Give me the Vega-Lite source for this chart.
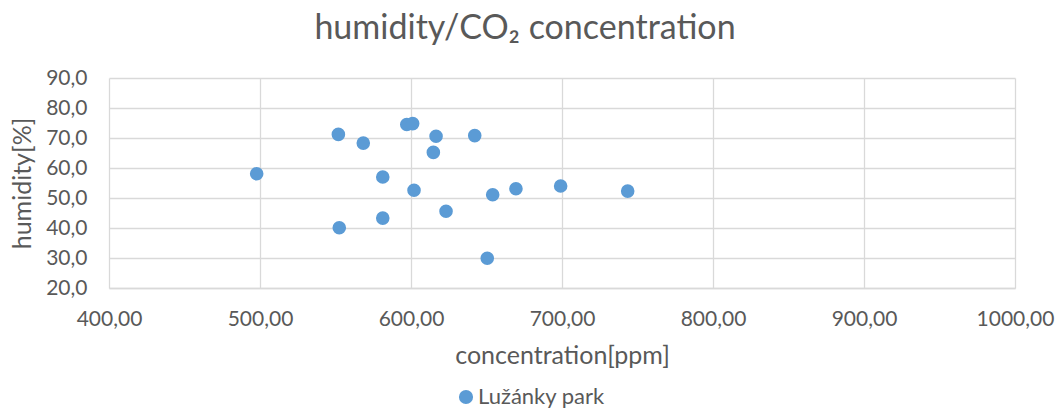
{
  "$schema": "https://vega.github.io/schema/vega-lite/v6.json",
  "width": 906,
  "height": 210,
  "autosize": {"type": "none"},
  "padding": {"left": 109, "top": 78, "right": 47, "bottom": 122},
  "background": "white",
  "title": {
    "text": "humidity/CO₂ concentration",
    "font": "Lato",
    "fontSize": 34,
    "fontWeight": "normal",
    "color": "#595959",
    "anchor": "middle",
    "dx": -37,
    "offset": 21
  },
  "data": {
    "values": [
      {"concentration": 497.8, "humidity": 58.1, "series": "Lužánky park"},
      {"concentration": 551.9, "humidity": 71.2, "series": "Lužánky park"},
      {"concentration": 552.5, "humidity": 40.1, "series": "Lužánky park"},
      {"concentration": 568.4, "humidity": 68.3, "series": "Lužánky park"},
      {"concentration": 581.3, "humidity": 57.0, "series": "Lužánky park"},
      {"concentration": 581.3, "humidity": 43.3, "series": "Lužánky park"},
      {"concentration": 597.2, "humidity": 74.5, "series": "Lužánky park"},
      {"concentration": 601.1, "humidity": 74.8, "series": "Lužánky park"},
      {"concentration": 602.0, "humidity": 52.6, "series": "Lužánky park"},
      {"concentration": 614.8, "humidity": 65.2, "series": "Lužánky park"},
      {"concentration": 616.6, "humidity": 70.6, "series": "Lužánky park"},
      {"concentration": 623.2, "humidity": 45.6, "series": "Lužánky park"},
      {"concentration": 642.2, "humidity": 70.8, "series": "Lužánky park"},
      {"concentration": 650.5, "humidity": 29.9, "series": "Lužánky park"},
      {"concentration": 654.1, "humidity": 51.1, "series": "Lužánky park"},
      {"concentration": 669.5, "humidity": 53.1, "series": "Lužánky park"},
      {"concentration": 699.1, "humidity": 54.0, "series": "Lužánky park"},
      {"concentration": 743.5, "humidity": 52.3, "series": "Lužánky park"}
    ]
  },
  "mark": {"type": "circle", "size": 185, "opacity": 1},
  "encoding": {
    "x": {
      "field": "concentration",
      "type": "quantitative",
      "scale": {"domain": [400, 1000], "nice": false, "zero": false},
      "axis": {
        "title": "concentration[ppm]",
        "values": [400, 500, 600, 700, 800, 900, 1000],
        "labelExpr": "replace(format(datum.value, '.2f'), '.', ',')",
        "grid": true,
        "gridColor": "#d9d9d9",
        "gridWidth": 1.3,
        "domainColor": "#d9d9d9",
        "domainWidth": 1.3,
        "ticks": false,
        "labelFont": "Lato",
        "labelFontSize": 21,
        "labelColor": "#595959",
        "labelPadding": 20,
        "labelFlush": false,
        "titleFont": "Lato",
        "titleFontSize": 25,
        "titleFontWeight": "normal",
        "titleColor": "#595959",
        "titlePadding": 14
      }
    },
    "y": {
      "field": "humidity",
      "type": "quantitative",
      "scale": {"domain": [20, 90], "nice": false, "zero": false},
      "axis": {
        "title": "humidity[%]",
        "values": [20, 30, 40, 50, 60, 70, 80, 90],
        "labelExpr": "replace(format(datum.value, '.1f'), '.', ',')",
        "grid": true,
        "gridColor": "#d9d9d9",
        "gridWidth": 1.3,
        "domain": false,
        "ticks": false,
        "labelFont": "Lato",
        "labelFontSize": 21,
        "labelColor": "#595959",
        "labelPadding": 22,
        "titleFont": "Lato",
        "titleFontSize": 25,
        "titleFontWeight": "normal",
        "titleColor": "#595959",
        "titlePadding": 10
      }
    },
    "color": {
      "field": "series",
      "type": "nominal",
      "scale": {"range": ["#5b9bd5"]},
      "legend": {
        "title": null,
        "orient": "none",
        "legendX": 346,
        "legendY": 308,
        "symbolType": "circle",
        "symbolSize": 200,
        "symbolOpacity": 1,
        "labelFont": "Lato",
        "labelFontSize": 22,
        "labelColor": "#595959",
        "labelOffset": 1
      }
    }
  },
  "config": {"view": {"stroke": null}}
}
